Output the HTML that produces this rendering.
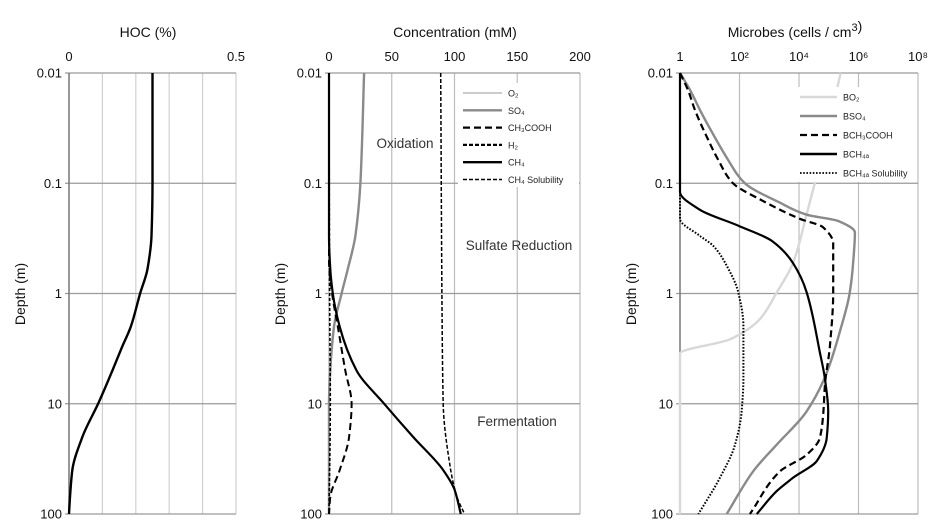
<!DOCTYPE html>
<html><head><meta charset="utf-8"><style>
body{margin:0;background:#fff;}
svg{display:block;font-family:"Liberation Sans",Arial,sans-serif;}
</style></head><body>
<svg id="c" width="931" height="529" xmlns="http://www.w3.org/2000/svg"></svg>
<script>
// ---- Panel 1: HOC ----
const hocDepth = [0.01,0.1,0.3,0.6,1,2,3,5,10,20,40,70,100];
const hocValue = [0.25,0.25,0.247,0.235,0.213,0.185,0.16,0.13,0.087,0.04,0.01,0.003,0];
const hocTicks = ["0","0.5"];
// ---- Panel 2: Concentration ----
const concTicks = ["0","50","100","150","200"];
const so4Depth = [0.01,0.1,0.3,0.6,1,2,5,10,100];
const so4Value = [28,25,21,15,10,4,1,0,0];
const ch4Depth = [0.01,0.3,0.6,1,2,5,10,20,40,60,100];
const ch4Value = [0,0,1,3,8.5,22,44,67,91,100,105];
const acDepth = [0.01,0.5,1,2,5,10,20,40,70,100];
const acValue = [0,0,2.5,7,13,18,16,8.5,1,0];
const h2Depth = [0.01,1,10,100];
const h2Value = [0,0.5,1,0];
const o2Depth = [0.01,100];
const o2Value = [0,0];
const solDepth = [0.01,1,10,40,70,100];
const solValue = [89,90,91,97,102,108];
// ---- Panel 3: Microbes (log10 cells/cm3) ----
const micTicks = ["1","10²","10⁴","10⁶","10⁸"];
const bo2Depth = [0.01,0.02,0.05,0.1,0.19,0.53,0.98,1.7,2.6,3.5,100];
const bo2Value = [5.4,5.15,4.85,4.53,4.26,3.8,3.25,2.69,1.68,0,0];
const bso4Depth = [0.01,0.0143,0.0216,0.04,0.061,0.1,0.15,0.193,0.22,0.28,0.53,1,2.1,5.5,11.8,23.5,41,100];
const bso4Value = [0,0.34,0.67,1.21,1.61,2.18,3.36,4.26,5.32,5.88,5.82,5.7,5.4,4.9,4.25,3.25,2.46,1.57];
const bacDepth = [0.01,0.0143,0.0216,0.04,0.061,0.1,0.14,0.21,0.25,0.35,0.98,3,6.8,11.8,20.5,29,41,100];
const bacValue = [0,0.27,0.5,0.94,1.28,1.78,2.69,4.03,4.8,5.15,5.15,5.04,4.87,4.82,4.7,4.26,3.36,2.35];
const bch4Depth = [0.01,0.12,0.174,0.245,0.335,0.53,0.98,3.4,5.9,11.8,20.5,33,47,62,100];
const bch4Value = [0,0,0.67,2.0,3.1,3.8,4.26,4.7,4.87,4.98,4.93,4.6,3.8,3.25,2.58];
const bsolDepth = [0.01,0.21,0.3,0.37,0.56,0.98,1.97,5.9,11.8,23.5,47,100];
const bsolValue = [0,0,0.67,1.12,1.57,1.96,2.13,2.13,2.07,1.85,1.34,0.62];
const depthTicks = [0.01,0.1,1,10,100];

const svg=document.getElementById('c');
const NS='http://www.w3.org/2000/svg';
function mk(tag,attrs,parent){const e=document.createElementNS(NS,tag);for(const k in attrs)e.setAttribute(k,attrs[k]);(parent||svg).appendChild(e);return e;}
const Y0=73,Y1=514;
function yOf(d){return Y0+(Math.log10(d)+2)/4*(Y1-Y0);}

function panel(name,x0,x1,nv,ticks,title,titleX,gridColor){
  const g=mk('g',{});
  
  
  for(let i=1;i<=nv;i++){const x=x0+(x1-x0)*i/nv;
    const l=mk('line',{x1:x,x2:x,y1:Y0,y2:Y1,stroke:gridColor,'stroke-width':1.2},g);
    }
  depthTicks.forEach((d,i)=>{const y=yOf(d);
    const l=mk('line',{x1:x0-4,x2:x1,y1:y,y2:y,stroke:'#9a9a9a','stroke-width':1.3},g);
    
    const t=mk('text',{x:x0-7,y:y+4.5,'text-anchor':'end','font-size':13,fill:'#111'},g);t.textContent=String(d);
    });
  ticks.forEach((s,i)=>{const x=x0+(x1-x0)*i/(ticks.length-1);
    const t=mk('text',{x:x,y:61,'text-anchor':'middle','font-size':13,fill:'#111'},g);t.textContent=s;
    });
  const ax=mk('line',{x1:x0,x2:x0,y1:Y0,y2:Y1,stroke:'#777','stroke-width':1.5},g);
  
  const ti=mk('text',{x:titleX,y:37,'text-anchor':'middle','font-size':14,fill:'#111'},g);ti.innerHTML=title;
  
  const yl=mk('text',{x:0,y:0,'text-anchor':'middle','font-size':14,fill:'#111',transform:`translate(${x0-44},294) rotate(-90)`},g);yl.textContent='Depth (m)';
  
  return g;
}
// monotone cubic x(y) (Fritsch–Carlson) — no overshoot
function series(name,depths,vals,xf,style){
  const Y=depths.map(yOf), X=vals.map(xf), n=Y.length;
  const h=[],s=[];
  for(let i=0;i<n-1;i++){h.push(Y[i+1]-Y[i]);s.push((X[i+1]-X[i])/h[i]);}
  const m=new Array(n);
  m[0]=s[0];m[n-1]=s[n-2];
  for(let i=1;i<n-1;i++){
    if(s[i-1]*s[i]<=0)m[i]=0;
    else{const w1=2*h[i]+h[i-1],w2=h[i]+2*h[i-1];m[i]=(w1+w2)/(w1/s[i-1]+w2/s[i]);}
  }
  let d='M'+X[0].toFixed(1)+','+Y[0].toFixed(1);
  for(let i=0;i<n-1;i++){
    const dy=h[i]/3;
    d+=' C'+(X[i]+m[i]*dy).toFixed(1)+','+(Y[i]+dy).toFixed(1)+' '+(X[i+1]-m[i+1]*dy).toFixed(1)+','+(Y[i+1]-dy).toFixed(1)+' '+X[i+1].toFixed(1)+','+Y[i+1].toFixed(1);
  }
  const p=mk('path',Object.assign({d:d,fill:'none','stroke-linejoin':'round'},style));
  
  
  return p;
}
// Panel 1
panel('hoc',69,236,5,hocTicks,'HOC (%)',148,'#d0d0d0');
const x1f=v=>69+v/0.5*167;
series('hoc-line',hocDepth,hocValue,x1f,{stroke:'#000','stroke-width':2.4});
// Panel 2
panel('concentration',329,580,4,concTicks,'Concentration (mM)',455,'#bdbdbd');
const x2f=v=>329+v/200*251;
series('o2-line',o2Depth,o2Value,x2f,{stroke:'#ccc','stroke-width':2});
series('ch4-solubility-line',solDepth,solValue,x2f,{stroke:'#000','stroke-width':1.5,'stroke-dasharray':'4,2'});
series('so4-line',so4Depth,so4Value,x2f,{stroke:'#8a8a8a','stroke-width':2.4});
series('h2-line',h2Depth,h2Value,x2f,{stroke:'#000','stroke-width':1.6,'stroke-dasharray':'3,2'});
series('ch3cooh-line',acDepth,acValue,x2f,{stroke:'#000','stroke-width':2,'stroke-dasharray':'7,4'});
series('ch4-line',ch4Depth,ch4Value,x2f,{stroke:'#000','stroke-width':2.2});
[['Oxidation',405,148],['Sulfate Reduction',519,250],['Fermentation',517,426]].forEach(r=>{
  const t=mk('text',{x:r[1],y:r[2],'text-anchor':'middle','font-size':13.5,fill:'#333'});t.textContent=r[0];
  });
const lg2=mk('g',{});
mk('rect',{x:458,y:83,width:121,height:104,fill:'#fff'},lg2);
const leg2=[['O₂','#ccc',2,''],['SO₄','#8a8a8a',2.4,''],['CH₃COOH','#000',2.2,'7,4'],['H₂','#000',2.2,'4,2'],['CH₄','#000',2.4,''],['CH₄ Solubility','#000',1.4,'4,2']];
leg2.forEach((e,i)=>{const y=93+i*17.3;
  const l=mk('line',{x1:463,x2:502,y1:y,y2:y,stroke:e[1],'stroke-width':e[2],'stroke-dasharray':e[3]},lg2);
  
  const t=mk('text',{x:508,y:y+3.5,'font-size':9,fill:'#222'},lg2);t.textContent=e[0];
  });
// Panel 3
panel('microbes',680,918,4,micTicks,'Microbes (cells / cm<tspan font-size="11" dy="-6">3</tspan>)',795,'#bdbdbd');
const x3f=v=>680+v/8*238;
series('bo2-line',bo2Depth,bo2Value,x3f,{stroke:'#d8d8d8','stroke-width':2.4});
series('bch4a-solubility-line',bsolDepth,bsolValue,x3f,{stroke:'#000','stroke-width':2,'stroke-dasharray':'1.6,1.6'});
series('bso4-line',bso4Depth,bso4Value,x3f,{stroke:'#8a8a8a','stroke-width':2.4});
series('bch3cooh-line',bacDepth,bacValue,x3f,{stroke:'#000','stroke-width':2.2,'stroke-dasharray':'7,4'});
series('bch4a-line',bch4Depth,bch4Value,x3f,{stroke:'#000','stroke-width':2.2});
const lg3=mk('g',{});
mk('rect',{x:796,y:87,width:120,height:95,fill:'#fff'},lg3);
const leg3=[['BO₂','#d8d8d8',2.4,''],['BSO₄','#8a8a8a',2.4,''],['BCH₃COOH','#000',2.2,'7,4'],['BCH₄ₐ','#000',2.4,''],['BCH₄ₐ Solubility','#000',1.8,'1.6,1.6']];
leg3.forEach((e,i)=>{const y=97+i*19;
  const l=mk('line',{x1:800,x2:837,y1:y,y2:y,stroke:e[1],'stroke-width':e[2],'stroke-dasharray':e[3]},lg3);
  
  const t=mk('text',{x:843,y:y+3.5,'font-size':9,fill:'#222'},lg3);t.textContent=e[0];
  });
</script>
</body></html>
